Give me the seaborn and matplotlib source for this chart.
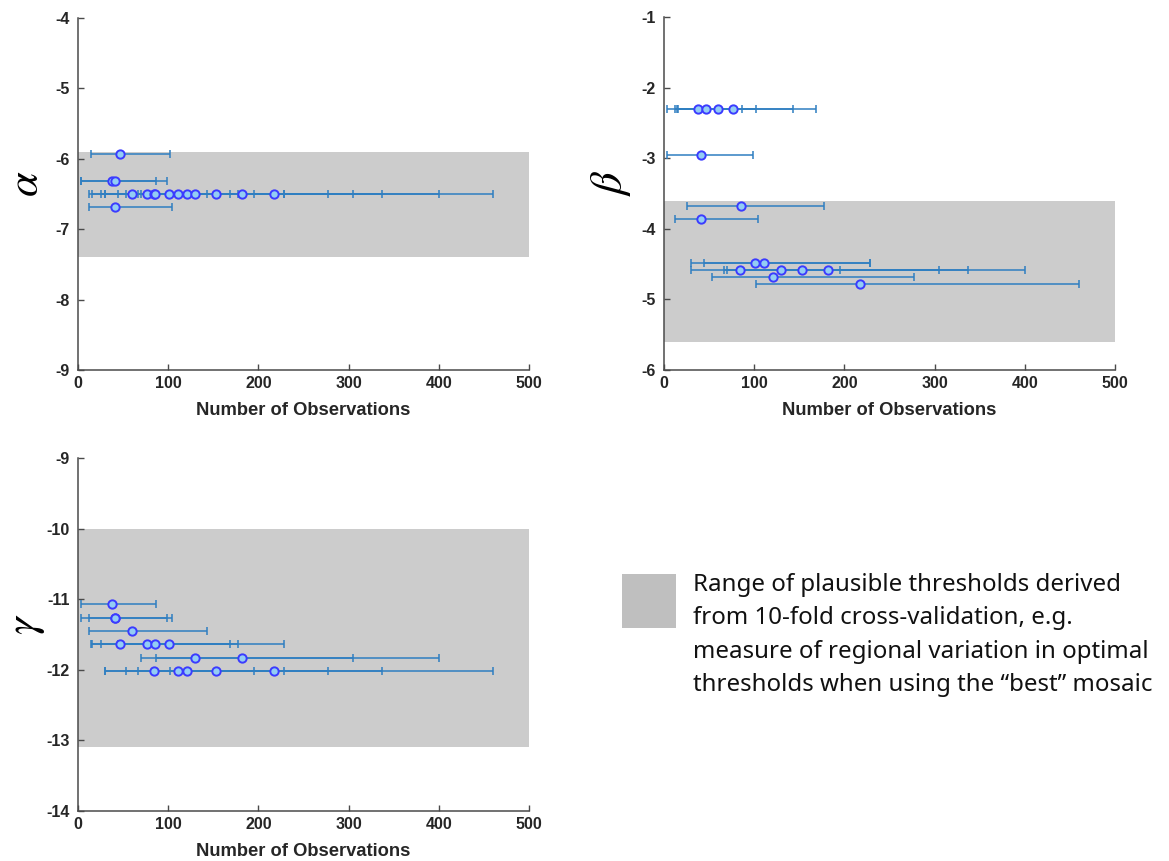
import numpy as np
import pandas as pd
import matplotlib
matplotlib.use("Agg")
import matplotlib.pyplot as plt
from matplotlib.patches import Rectangle
import seaborn as sns

# Observation counts per region with their confidence range on the count
n_obs = [38, 41, 41, 47, 60, 76, 84, 85, 101, 111, 121, 130, 153, 182, 217]
ci_low = [3, 3, 12, 14, 12.5, 15, 30, 25, 44, 30, 53, 70, 66, 86.5, 102]
ci_high = [87, 99, 104, 102, 143, 168, 195, 177, 228, 228, 277, 305, 337, 400, 460]

# Optimal thresholds per region for each parameter
alpha_thr = [-6.32, -6.32, -6.69, -5.93, -6.50, -6.50, -6.50, -6.50,
             -6.50, -6.50, -6.50, -6.50, -6.50, -6.50, -6.50]
beta_thr = [-2.30, -2.95, -3.86, -2.30, -2.30, -2.30, -4.59, -3.68,
            -4.49, -4.49, -4.68, -4.59, -4.59, -4.59, -4.78]
gamma_thr = [-11.07, -11.26, -11.26, -11.64, -11.45, -11.64, -12.02, -11.64,
             -11.64, -12.02, -12.02, -11.83, -12.02, -11.83, -12.02]

# Plausible range from 10-fold cross-validation
alpha_band = (-7.4, -5.9)
beta_band = (-5.6, -3.6)
gamma_band = (-13.1, -10.0)

alpha_ylim = (-9, -4)
beta_ylim = (-6, -1)
gamma_ylim = (-14, -9)

x_ticks = [0, 100, 200, 300, 400, 500]

legend_lines = [
    "Range of plausible thresholds derived",
    "from 10-fold cross-validation, e.g.",
    "measure of regional variation in optimal",
    "thresholds when using the \u201cbest\u201d mosaic",
]

BAND = "#cccccc"
BAR = "#2f7fc1"
EDGE = "#3b3bff"
FACE = "#93cdf4"
AXC = "#4a4a4a"
TXT = "#262626"

sns.set_theme(style="ticks")
plt.rcParams["font.family"] = ["Liberation Sans", "DejaVu Sans"]
plt.rcParams["axes.unicode_minus"] = False
plt.rcParams["mathtext.fontset"] = "stix"

W, H = 1169, 861
fig = plt.figure(figsize=(W / 100, H / 100), dpi=100)


def box(x0, y0, x1, y1):
    return [x0 / W, 1 - y1 / H, (x1 - x0) / W, (y1 - y0) / H]


def panel(rect, thr, band, ylim, symbol, label_x):
    ax = fig.add_axes(rect)
    ax.axhspan(band[0], band[1], color=BAND, lw=0, zorder=0)
    n = np.asarray(n_obs, dtype=float)
    xerr = [n - np.asarray(ci_low), np.asarray(ci_high) - n]
    ax.errorbar(n, thr, xerr=xerr, fmt="none", ecolor=BAR, elinewidth=1.1,
                capsize=2.9, capthick=1.1, zorder=2)
    df = pd.DataFrame({"n": n, "thr": thr})
    sns.scatterplot(data=df, x="n", y="thr", ax=ax, marker="o", s=36,
                    color=FACE, edgecolor=EDGE, linewidth=1.4, zorder=3)
    ax.set_xlim(0, 500)
    ax.set_ylim(*ylim)
    ax.set_xticks(x_ticks)
    yt = np.arange(ylim[0], ylim[1] + 1, 1)
    ax.set_yticks(yt)
    ax.set_yticklabels([str(int(v)) for v in yt])
    for s in ("top", "right"):
        ax.spines[s].set_visible(False)
    for s in ("left", "bottom"):
        ax.spines[s].set_color(AXC)
        ax.spines[s].set_linewidth(1.1)
    ax.tick_params(direction="in", length=4, width=1.0, color=AXC,
                   labelsize=11.5, labelcolor=TXT)
    ax.tick_params(axis="x", pad=4)
    ax.tick_params(axis="y", pad=6)
    for lab in ax.get_xticklabels() + ax.get_yticklabels():
        lab.set_fontweight("bold")
    ax.set_xlabel("Number of Observations", fontsize=13.2, fontweight="bold",
                  color=TXT, labelpad=8)
    ax.set_ylabel(symbol, fontsize=32, color="black", rotation=90)
    ax.yaxis.set_label_coords(label_x, 0.53)
    ax.set_facecolor("none")
    return ax


panel(box(78, 18, 529, 370), alpha_thr, alpha_band, alpha_ylim, r"$\alpha$", -0.068)
panel(box(664, 17, 1115, 370), beta_thr, beta_band, beta_ylim, r"$\beta$", -0.068)
panel(box(78, 458, 529, 811), gamma_thr, gamma_band, gamma_ylim, r"$\gamma$", -0.068)

# Legend swatch and description
fig.patches.append(Rectangle((622 / W, 1 - 628 / H), 54 / W, 54 / H,
                             transform=fig.transFigure, facecolor="#bfbfbf",
                             edgecolor="none"))
for i, line in enumerate(legend_lines):
    fig.text(693 / W, 1 - (585 + 33.3 * i) / H, line, fontsize=17.3,
             family=["Noto Sans", "DejaVu Sans"], color="#111111",
             va="center", ha="left")

fig.savefig("out.png", dpi=100)
